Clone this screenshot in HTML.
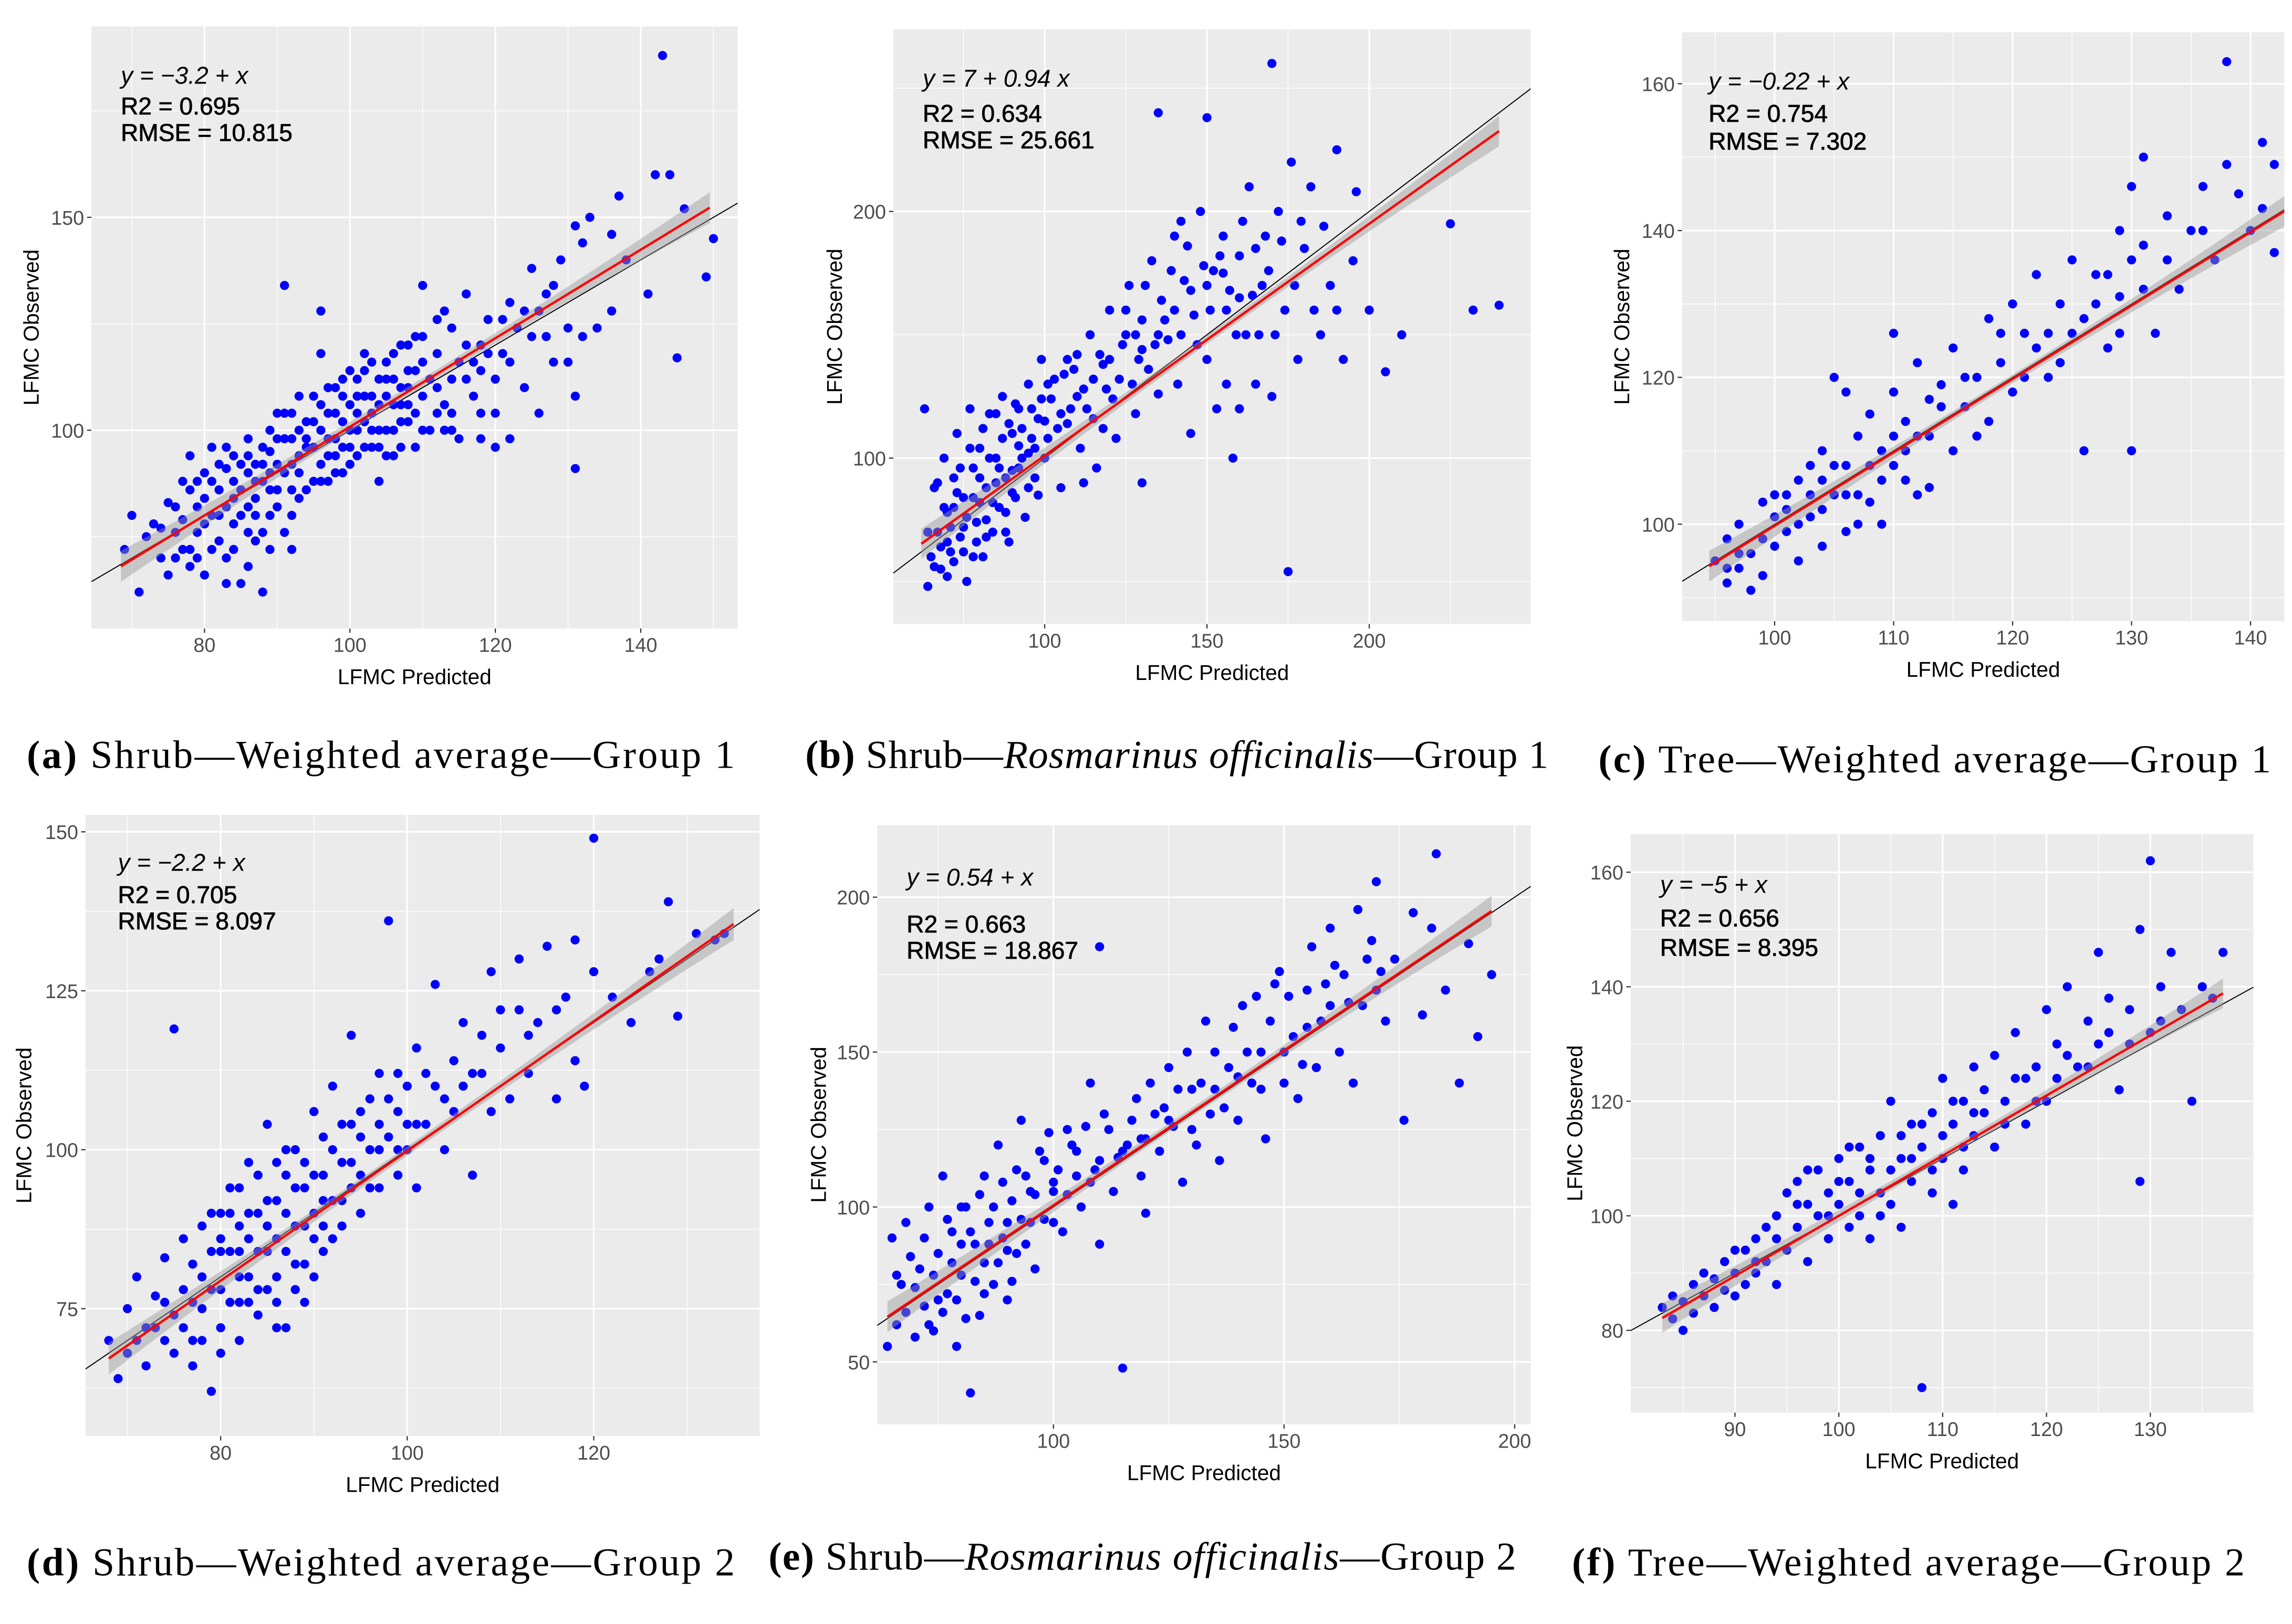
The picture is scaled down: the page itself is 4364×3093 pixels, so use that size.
<!DOCTYPE html>
<html><head><meta charset="utf-8"><style>
html,body{margin:0;padding:0;background:#fff;}
svg{display:block;}
</style></head><body>
<svg id="fig" xmlns="http://www.w3.org/2000/svg" width="4364" height="3093" viewBox="0 0 1560 1106">
<rect x="0" y="0" width="1560" height="1106" fill="#fff"/>
</svg>
<script>
// ---------- data ----------
const ptsA=[[69,72],[70,80],[71,62],[72,75],[73,78],[74,70],[75,83],[75,66],[76,76],[77,88],[77,72],[78,94],[78,68],[79,82],[79,76],[80,90],[80,84],[81,72],[81,96],[82,86],[82,80],[83,70],[83,91],[84,78],[84,94],[85,86],[85,64],[86,98],[86,82],[87,74],[87,92],[88,88],[88,62],[89,80],[89,95],[90,98],[90,86],[91,76],[91,104],[92,92],[92,98],[93,84],[93,100],[94,96],[95,88],[95,108],[96,100],[96,118],[97,94],[97,104],[98,110],[98,90],[99,102],[99,96],[100,106],[100,92],[101,112],[101,100],[102,96],[102,118],[103,108],[103,104],[104,88],[104,112],[105,100],[105,116],[106,106],[106,94],[107,110],[107,120],[108,102],[108,114],[109,96],[109,122],[110,108],[110,134],[111,100],[112,118],[113,106],[113,128],[114,112],[115,98],[116,120],[116,132],[117,108],[118,114],[119,126],[120,104],[120,96],[121,118],[122,130],[123,124],[124,110],[125,138],[126,104],[126,128],[127,122],[128,134],[129,140],[130,116],[131,108],[131,148],[132,122],[133,150],[134,124],[136,146],[137,155],[138,140],[141,132],[142,160],[143,188],[144,160],[145,117],[146,152],[149,136],[150,145],[91,134],[96,128],[131,91],[136,128],[132,144],[76,82],[78,86],[80,78],[82,92],[84,88],[86,90],[88,96],[90,92],[92,86],[94,102],[96,92],[98,98],[100,100],[102,108],[104,96],[106,112],[108,106],[110,116],[112,104],[114,124],[118,120],[85,80],[87,84],[89,86],[93,94],[97,98],[99,108],[101,104],[103,96],[105,108],[107,102]];
const ptsA2=[[74,77],[76,70],[77,79],[79,88],[79,70],[81,80],[81,88],[82,74],[83,82],[83,96],[84,72],[84,84],[85,92],[86,76],[86,94],[87,80],[87,88],[88,92],[88,76],[89,90],[89,100],[90,82],[90,104],[91,90],[91,98],[92,80],[92,104],[93,90],[93,108],[94,86],[94,98],[95,96],[95,102],[96,88],[96,106],[97,110],[97,88],[98,104],[98,94],[99,112],[99,90],[100,96],[100,114],[101,94],[101,108],[102,102],[102,114],[103,100],[103,116],[104,106],[104,100],[105,112],[105,94],[106,100],[106,118],[107,106],[107,96],[108,110],[108,120],[109,104],[109,114],[110,100],[110,122],[111,112],[112,110],[112,126],[113,100],[114,104],[115,116],[116,112],[117,116],[118,104],[119,118],[120,112],[121,126],[122,116],[124,128],[125,122],[127,132],[128,116],[130,124],[122,98],[118,98],[114,100],[92,72],[89,72],[83,64],[80,66],[86,68],[78,72]];
const ptsB=[[63,120],[64,48],[65,60],[66,88],[67,70],[68,55],[69,100],[70,78],[71,62],[72,92],[73,110],[74,68],[75,84],[76,50],[77,120],[78,96],[79,74],[80,104],[81,60],[82,88],[83,118],[84,70],[85,100],[86,80],[87,125],[88,92],[89,66],[90,110],[91,84],[92,120],[93,100],[94,76],[95,130],[96,108],[97,92],[98,116],[99,140],[100,100],[102,124],[104,112],[105,88],[106,134],[108,120],[110,142],[111,104],[112,128],[114,150],[115,116],[116,96],[118,138],[120,160],[121,124],[122,108],[124,146],[126,170],[127,130],[128,118],[130,156],[132,136],[133,180],[135,126],[136,164],[138,148],[140,190],[141,130],[143,172],[145,110],[146,158],[148,200],[150,140],[152,176],[153,120],[155,190],[156,160],[158,100],[160,182],[162,150],[163,210],[165,130],[167,170],[168,190],[170,125],[172,200],[174,160],[176,220],[178,140],[180,185],[182,210],[185,150],[188,170],[190,225],[192,140],[195,180],[200,160],[205,135],[210,150],[225,195],[232,160],[240,162],[170,260],[135,240],[175,54],[150,238],[130,90],[70,66],[75,72],[80,82],[85,90],[90,95],[95,102],[100,115],[105,118],[110,125],[115,132],[120,140],[125,150],[130,144],[135,150],[140,160],[145,168],[150,170],[155,175],[160,165],[165,185],[72,80],[78,60],[82,75],[88,78],[92,105],[98,85]];
const ptsB2=[[64,70],[66,56],[67,90],[68,64],[69,80],[70,52],[71,72],[72,58],[73,86],[74,96],[75,62],[76,76],[77,104],[78,84],[79,66],[80,92],[81,112],[82,68],[83,100],[84,82],[85,118],[86,96],[87,108],[88,70],[89,114],[90,86],[91,122],[92,96],[93,112],[95,88],[96,120],[97,104],[99,124],[101,108],[103,132],[107,114],[109,136],[113,120],[117,142],[119,128],[123,132],[125,160],[129,140],[131,170],[134,146],[137,156],[139,176],[142,150],[144,186],[147,146],[149,178],[151,160],[154,182],[157,168],[159,150],[161,196],[164,166],[166,150],[169,176],[171,150],[173,188],[177,170],[179,196],[183,160],[186,194],[190,160],[196,208],[101,130],[107,140],[112,90],[118,112],[128,150],[142,196],[156,130],[160,120]];
const ptsC=[[95,95],[96,92],[96,98],[97,94],[97,100],[98,91],[98,96],[99,103],[99,93],[100,97],[100,104],[101,99],[101,102],[102,106],[102,95],[103,108],[103,101],[104,110],[104,97],[105,104],[105,120],[106,108],[106,99],[107,112],[107,104],[108,103],[108,115],[109,100],[109,110],[110,118],[110,108],[111,106],[111,114],[112,112],[112,122],[113,117],[113,105],[114,119],[115,110],[115,124],[116,116],[117,120],[118,128],[118,114],[119,122],[120,130],[120,118],[121,126],[122,134],[122,124],[123,120],[124,130],[124,122],[125,136],[125,126],[126,110],[127,130],[128,134],[128,124],[129,140],[129,131],[130,136],[130,110],[131,138],[131,150],[132,126],[133,142],[134,132],[135,140],[136,146],[137,136],[138,149],[138,163],[139,145],[140,140],[141,152],[141,143],[142,137],[142,149],[110,126],[106,118],[130,146]];
const ptsC2=[[96,94],[97,96],[99,98],[100,101],[101,104],[102,100],[103,104],[104,106],[104,102],[105,108],[106,104],[107,100],[108,108],[109,106],[110,112],[111,110],[112,104],[113,112],[114,116],[116,120],[117,112],[119,126],[121,120],[123,126],[126,128],[127,134],[129,126],[131,132],[133,136],[136,140]];
const ptsD=[[68,70],[69,64],[70,75],[70,68],[71,80],[72,72],[72,66],[73,77],[74,83],[74,70],[75,119],[75,74],[76,86],[76,78],[77,70],[77,82],[78,88],[78,75],[79,62],[79,84],[80,90],[80,78],[80,72],[81,94],[81,84],[82,80],[82,88],[83,98],[83,76],[84,90],[84,84],[85,104],[85,78],[86,92],[86,86],[87,96],[87,72],[88,88],[88,100],[89,82],[89,94],[90,106],[90,90],[91,84],[91,96],[92,100],[92,110],[93,92],[93,88],[94,104],[94,118],[95,96],[95,90],[96,108],[96,100],[97,94],[97,112],[98,102],[98,136],[99,96],[99,106],[100,110],[100,100],[101,94],[101,116],[102,104],[103,110],[103,126],[104,100],[105,114],[105,106],[106,120],[107,96],[107,112],[108,118],[109,106],[109,128],[110,116],[111,108],[112,122],[112,130],[113,112],[114,120],[115,132],[116,108],[117,124],[118,133],[118,114],[119,110],[120,128],[120,149],[122,124],[124,120],[126,128],[127,130],[128,139],[129,121],[131,134],[133,133],[134,134],[78,80],[80,84],[82,76],[83,86],[84,78],[85,88],[86,80],[87,90],[88,82],[89,88],[90,80],[91,92],[92,86],[93,98],[95,102],[97,100],[99,100],[101,104]];
const ptsD2=[[71,70],[73,72],[74,76],[75,68],[76,72],[77,76],[78,70],[79,78],[79,90],[80,86],[81,76],[81,90],[82,84],[82,94],[83,80],[83,90],[84,74],[84,96],[85,84],[85,92],[86,76],[86,98],[87,84],[87,100],[88,78],[88,94],[89,98],[90,86],[90,96],[91,88],[91,102],[92,92],[93,104],[94,94],[94,98],[95,106],[96,94],[97,104],[98,108],[99,112],[100,104],[102,112],[104,108],[106,110],[108,112],[110,122],[113,118],[116,122],[82,70],[80,68],[77,66],[86,72],[89,76]];
const ptsE=[[64,55],[65,90],[66,62],[67,75],[68,95],[70,58],[71,80],[72,68],[73,100],[74,60],[75,85],[76,110],[77,72],[78,92],[79,55],[80,78],[81,100],[82,40],[83,88],[84,65],[85,110],[86,95],[87,75],[88,120],[89,90],[90,70],[91,102],[92,85],[93,128],[94,110],[95,95],[96,80],[98,115],[100,105],[102,92],[103,125],[105,118],[106,100],[108,140],[109,112],[110,88],[112,125],[113,105],[115,48],[116,120],[118,135],[119,110],[120,98],[122,130],[123,118],[125,145],[126,126],[128,108],[130,138],[131,120],[133,160],[134,130],[136,115],[138,145],[140,128],[141,165],[143,140],[145,150],[146,122],[148,172],[150,140],[152,155],[153,135],[155,170],[157,145],[158,160],[160,190],[162,150],[163,175],[165,140],[167,165],[168,180],[170,205],[172,160],[174,180],[176,128],[178,195],[180,162],[182,190],[185,170],[188,140],[190,185],[192,155],[195,175],[183,214],[110,184],[100,108],[75,70],[80,88],[85,82],[90,95],[95,105],[100,95],[105,110],[110,115],[115,118],[120,122],[125,128],[130,125],[135,138],[140,142],[145,138],[150,150],[155,158],[160,165],[170,170]];
const ptsE2=[[66,78],[68,66],[69,84],[70,74],[72,90],[73,62],[74,78],[76,66],[77,96],[78,82],[79,70],[80,100],[81,64],[82,92],[83,76],[84,104],[85,72],[86,88],[87,100],[88,82],[89,108],[90,86],[91,76],[92,112],[93,96],[94,88],[96,104],[97,118],[98,96],[99,124],[101,112],[103,104],[104,120],[107,126],[108,108],[111,130],[114,116],[117,128],[119,122],[121,140],[124,132],[127,138],[129,150],[132,140],[135,150],[137,132],[139,158],[142,150],[144,168],[147,160],[149,176],[151,168],[154,146],[156,184],[159,172],[161,178],[164,166],[166,196],[169,186],[171,176]];
const ptsF=[[83,84],[84,82],[84,86],[85,80],[85,85],[86,88],[86,83],[87,86],[87,90],[88,84],[88,89],[89,87],[89,92],[90,90],[90,86],[91,94],[91,88],[92,96],[92,90],[93,98],[93,92],[94,100],[94,88],[95,104],[95,94],[96,98],[96,106],[97,92],[97,102],[98,100],[98,108],[99,96],[99,104],[100,110],[100,102],[101,98],[101,106],[102,112],[102,100],[103,108],[103,96],[104,114],[104,104],[105,120],[105,102],[106,110],[106,98],[107,116],[107,106],[108,70],[108,112],[109,104],[109,118],[110,124],[110,110],[111,102],[111,116],[112,120],[112,108],[113,126],[113,114],[114,118],[115,112],[115,128],[116,120],[117,124],[117,132],[118,116],[119,126],[120,136],[120,120],[121,130],[122,140],[123,126],[124,134],[125,146],[125,130],[126,138],[127,122],[128,136],[129,150],[129,106],[130,132],[130,162],[131,140],[132,146],[133,136],[134,120],[135,140],[136,138],[137,146]];
const ptsF2=[[90,94],[92,92],[94,96],[96,102],[97,108],[99,100],[100,106],[101,112],[102,104],[103,110],[104,100],[105,108],[106,114],[107,110],[108,116],[109,108],[110,114],[111,120],[112,112],[113,118],[114,122],[116,116],[118,124],[119,120],[121,124],[122,128],[124,126],[126,132],[128,130],[131,134]];

const xTicksA=[80,100,120,140], yTicksA=[100,150];
const xTicksB=[100,150,200], yTicksB=[100,200];
const xTicksC=[100,110,120,130,140], yTicksC=[100,120,140,160];
const xTicksD=[80,100,120], yTicksD=[75,100,125,150];
const xTicksE=[100,150,200], yTicksE=[50,100,150,200];
const xTicksF=[90,100,110,120,130], yTicksF=[80,100,120,140,160];

const fitA=[-3.2,1.04], fitB=[7,0.94], fitC=[-0.22,1.0], fitD=[-2.2,1.02], fitE=[0.54,1.0], fitF=[-5,1.05];
const fitRangeA=[68.5,149.5], fitRangeB=[62,240], fitRangeC=[94.5,143], fitRangeD=[68,135], fitRangeE=[64,195], fitRangeF=[83,137];
const statsA=["y = \u22123.2 + x","R2 = 0.695","RMSE = 10.815"];
const statsB=["y = 7 + 0.94 x","R2 = 0.634","RMSE = 25.661"];
const statsC=["y = \u22120.22 + x","R2 = 0.754","RMSE = 7.302"];
const statsD=["y = \u22122.2 + x","R2 = 0.705","RMSE = 8.097"];
const statsE=["y = 0.54 + x","R2 = 0.663","RMSE = 18.867"];
const statsF=["y = \u22125 + x","R2 = 0.656","RMSE = 8.395"];

// ---------- drawing ----------
const NS="http://www.w3.org/2000/svg";
const svg=document.getElementById('fig');
function mk(tag,attrs,parent){const e=document.createElementNS(NS,tag);for(const k in attrs)e.setAttribute(k,attrs[k]);(parent||svg).appendChild(e);return e;}

function panel(id,L,pts,xt,yt,fit,fr,stats,cap){
  const g=mk('g',{});
  
  
  const X=v=>L.x0+(v-L.xv0)*L.kx;
  const Y=v=>L.y0-(v-L.yv0)*L.ky;
  const bg=mk('rect',{x:L.l,y:L.t,width:L.r-L.l,height:L.b-L.t,fill:'#ebebeb'},g);
  
  
  const cp=mk('clipPath',{id:'cp'+id},g);
  mk('rect',{x:L.l,y:L.t,width:L.r-L.l,height:L.b-L.t},cp);
  const gx=(xt[1]-xt[0]);const gy=(yt[1]-yt[0]);
  for(let v=xt[0]-gx*3;v<=xt[xt.length-1]+gx*3;v+=gx){const m=v+gx/2;const px=X(m);if(px>L.l&&px<L.r)mk('line',{x1:px,x2:px,y1:L.t,y2:L.b,stroke:'#fff','stroke-width':0.5},g);}
  for(let v=yt[0]-gy*3;v<=yt[yt.length-1]+gy*3;v+=gy){const m=v+gy/2;const py=Y(m);if(py>L.t&&py<L.b)mk('line',{x1:L.l,x2:L.r,y1:py,y2:py,stroke:'#fff','stroke-width':0.5},g);}
  xt.forEach(v=>{const px=X(v);mk('line',{x1:px,x2:px,y1:L.t,y2:L.b,stroke:'#fff','stroke-width':1.1},g);
    mk('line',{x1:px,x2:px,y1:L.b,y2:L.b+3,stroke:'#333','stroke-width':0.8},g);
    const t=mk('text',{x:px,y:L.b+16,'text-anchor':'middle','font-size':13.5,fill:'#4d4d4d'},g);t.textContent=v;
    });
  yt.forEach(v=>{const py=Y(v);mk('line',{x1:L.l,x2:L.r,y1:py,y2:py,stroke:'#fff','stroke-width':1.1},g);
    mk('line',{x1:L.l-3,x2:L.l,y1:py,y2:py,stroke:'#333','stroke-width':0.8},g);
    const t=mk('text',{x:L.l-5,y:py+5,'text-anchor':'end','font-size':13.5,fill:'#4d4d4d'},g);t.textContent=v;
    });
  const inner=mk('g',{'clip-path':'url(#cp'+id+')'},g);
  const idl=mk('line',{x1:L.l,y1:Y(L.xv0+(L.l-L.x0)/L.kx),x2:L.r,y2:Y(L.xv0+(L.r-L.x0)/L.kx),stroke:'#000','stroke-width':0.7},inner);
  
  pts.forEach(p=>{const c=mk('circle',{cx:X(p[0]),cy:Y(p[1]),r:3.1,fill:'#0000ff'},inner);
    });
  const mid=(fr[0]+fr[1])/2, half=(fr[1]-fr[0])/2, yr=(L.ty1-L.ty0);
  let up=[],lo=[];
  for(let i=0;i<=30;i++){const x=fr[0]+(fr[1]-fr[0])*i/30;const yv=fit[0]+fit[1]*x;const d=((x-mid)/half);const h=yr*0.008*(1+2.5*d*d);
    up.push(X(x)+','+Y(yv+h));lo.unshift(X(x)+','+Y(yv-h));}
  const band=mk('polygon',{points:up.concat(lo).join(' '),fill:'#999','fill-opacity':0.45},inner);
  
  const fl=mk('line',{x1:X(fr[0]),y1:Y(fit[0]+fit[1]*fr[0]),x2:X(fr[1]),y2:Y(fit[0]+fit[1]*fr[1]),stroke:'#ff0000','stroke-width':1.6},inner);
  
  const eq=mk('text',{x:L.ax,y:L.ay,'font-size':16.5,'font-style':'italic',fill:'#000'},g);eq.textContent=stats[0];
  
  const r2=mk('text',{x:L.ax,y:L.ay+L.ad,'font-size':16.5,fill:'#000','stroke':'#000','stroke-width':0.3},g);r2.textContent=stats[1];
  
  const rm=mk('text',{x:L.ax,y:L.ay+L.ad+L.ad2,'font-size':16.5,fill:'#000','stroke':'#000','stroke-width':0.3},g);rm.textContent=stats[2];
  
  const xl=mk('text',{x:(L.l+L.r)/2,y:L.b+38,'text-anchor':'middle','font-size':14.5,fill:'#000'},g);xl.textContent='LFMC Predicted';
  
  const yl=mk('text',{x:0,y:0,'text-anchor':'middle','font-size':14.5,fill:'#000',transform:'translate('+L.ylx+','+(L.t+L.b)/2+') rotate(-90)'},g);yl.textContent='LFMC Observed';
  
  const c=mk('text',{x:cap.x,y:cap.y,'font-size':27,'font-family':'"Liberation Serif",serif',fill:'#000',textLength:cap.w,lengthAdjust:'spacing'},g);
  
  const b=mk('tspan',{'font-weight':'bold'},c);b.textContent='('+id+')';
  if(cap.italic){
    const s1=mk('tspan',{},c);s1.textContent=' Shrub\u2014';
    const s2=mk('tspan',{'font-style':'italic'},c);s2.textContent='Rosmarinus officinalis';
    const s3=mk('tspan',{},c);s3.textContent='\u2014'+cap.rest;
  } else {const s=mk('tspan',{},c);s.textContent=' '+cap.text;}
}
svg.setAttribute('font-family','"Liberation Sans", Arial, sans-serif');

panel('a',{l:62,r:502,t:18,b:428,x0:139,xv0:80,kx:4.95,y0:293,yv0:100,ky:2.9,ty0:60,ty1:190,ax:82,ay:57,ad:21,ad2:18,ylx:26},
  ptsA.concat(ptsA2),xTicksA,yTicksA,fitA,fitRangeA,statsA,{x:18,y:523,w:482,text:'Shrub\u2014Weighted average\u2014Group 1'});
panel('b',{l:608,r:1042,t:20,b:425,x0:711,xv0:100,kx:2.21,y0:312,yv0:100,ky:1.68,ty0:45,ty1:265,ax:628,ay:59,ad:24,ad2:18,ylx:573},
  ptsB.concat(ptsB2),xTicksB,yTicksB,fitB,fitRangeB,statsB,{x:548,y:523,w:506,italic:true,rest:'Group 1'});
panel('c',{l:1145,r:1555,t:22,b:423,x0:1208,xv0:100,kx:8.1,y0:357,yv0:100,ky:5.0,ty0:90,ty1:165,ax:1163,ay:61,ad:22,ad2:19,ylx:1109},
  ptsC.concat(ptsC2),xTicksC,yTicksC,fitC,fitRangeC,statsC,{x:1088,y:526,w:458,text:'Tree\u2014Weighted average\u2014Group 1'});
panel('d',{l:58,r:517,t:555,b:978,x0:150,xv0:80,kx:6.35,y0:783,yv0:100,ky:4.33,ty0:60,ty1:150,ax:80,ay:593,ad:22,ad2:18,ylx:21},
  ptsD.concat(ptsD2),xTicksD,yTicksD,fitD,fitRangeD,statsD,{x:18,y:1073,w:482,text:'Shrub\u2014Weighted average\u2014Group 2'});
panel('e',{l:597,r:1042,t:562,b:970,x0:717,xv0:100,kx:3.14,y0:822,yv0:100,ky:2.11,ty0:38,ty1:215,ax:617,ay:603,ad:32,ad2:18,ylx:562},
  ptsE.concat(ptsE2),xTicksE,yTicksE,fitE,fitRangeE,statsE,{x:523,y:1069,w:509,italic:true,rest:'Group 2'});
panel('f',{l:1110,r:1534,t:568,b:962,x0:1181,xv0:90,kx:7.07,y0:828,yv0:100,ky:3.9,ty0:70,ty1:162,ax:1130,ay:608,ad:23,ad2:20,ylx:1077},
  ptsF.concat(ptsF2),xTicksF,yTicksF,fitF,fitRangeF,statsF,{x:1070,y:1073,w:458,text:'Tree\u2014Weighted average\u2014Group 2'});
</script>
</body></html>
